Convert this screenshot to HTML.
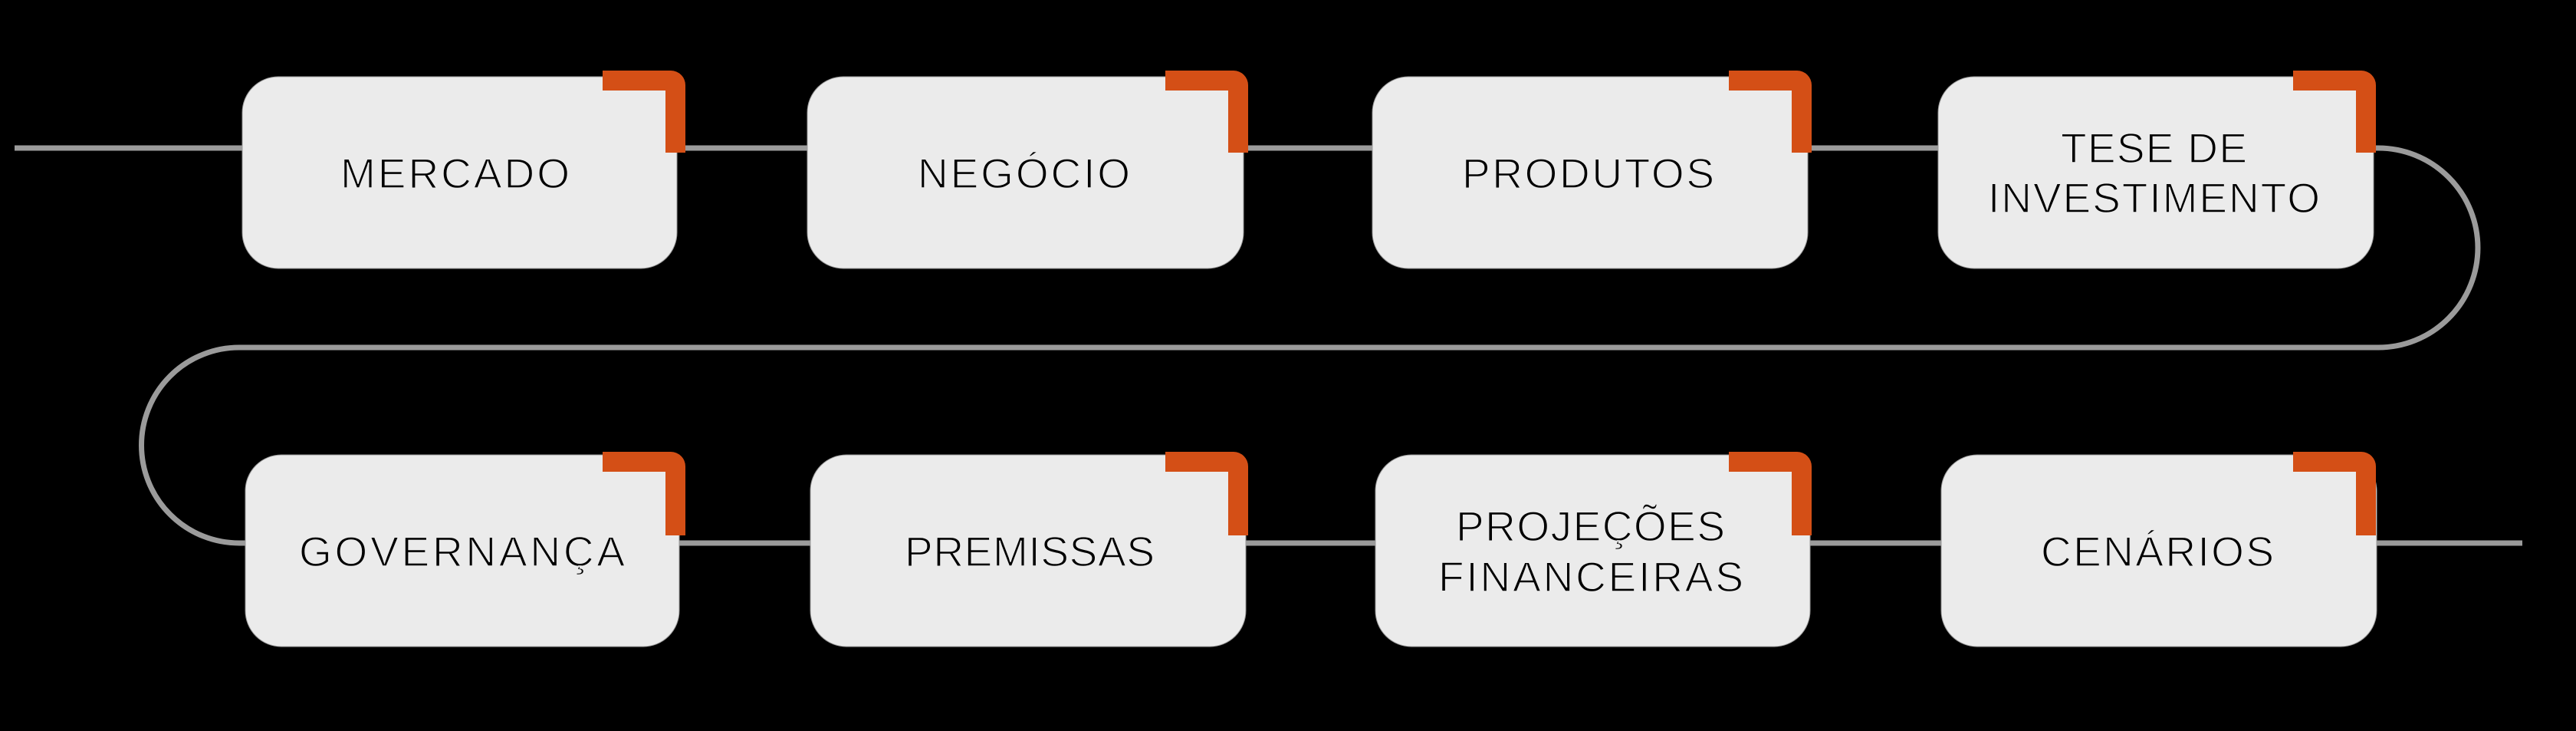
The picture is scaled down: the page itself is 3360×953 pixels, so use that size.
<!DOCTYPE html>
<html>
<head>
<meta charset="utf-8">
<style>
  html, body { margin: 0; padding: 0; background: #000; }
  body { width: 3360px; height: 953px; overflow: hidden; }
  svg { display: block; }
  text {
    font-family: "Liberation Sans", "DejaVu Sans", sans-serif;
    font-size: 55px;
    fill: #000;
    stroke: #ebebeb;
    stroke-width: 1.5px;
  }
</style>
</head>
<body>
<svg width="3360" height="953" viewBox="0 0 3360 953" xmlns="http://www.w3.org/2000/svg">
  <rect x="0" y="0" width="3360" height="953" fill="#000"/>

  <!-- connector line -->
  <path d="M19,193 H3102 A130,130 0 0 1 3102,453 H312 A127.5,127.5 0 0 0 312,708 H3290"
        fill="none" stroke="#9b9b9b" stroke-width="7"/>

  <!-- row 1 boxes -->
  <g fill="#ebebeb" stroke="#9a9a9a" stroke-width="1">
    <rect x="316" y="100" width="567" height="250" rx="47" ry="47"/>
    <rect x="1053" y="100" width="569" height="250" rx="47" ry="47"/>
    <rect x="1790" y="100" width="568" height="250" rx="47" ry="47"/>
    <rect x="2528" y="100" width="568" height="250" rx="47" ry="47"/>
  </g>
  <!-- row 2 boxes -->
  <g fill="#ebebeb" stroke="#9a9a9a" stroke-width="1">
    <rect x="320" y="593" width="566" height="250" rx="47" ry="47"/>
    <rect x="1057" y="593" width="568" height="250" rx="47" ry="47"/>
    <rect x="1794" y="593" width="567" height="250" rx="47" ry="47"/>
    <rect x="2532" y="593" width="568" height="250" rx="47" ry="47"/>
  </g>

  <!-- orange corner brackets -->
  <g fill="#d44f16">
    <path d="M786,92 H875 A19,19 0 0 1 894,111 V199 H868 V118 H786 Z"/>
    <path d="M1520,92 H1609 A19,19 0 0 1 1628,111 V199 H1602 V118 H1520 Z"/>
    <path d="M2255,92 H2344 A19,19 0 0 1 2363,111 V199 H2337 V118 H2255 Z"/>
    <path d="M2991,92 H3080 A19,19 0 0 1 3099,111 V199 H3073 V118 H2991 Z"/>

    <path d="M786,589 H875 A19,19 0 0 1 894,608 V698 H868 V615 H786 Z"/>
    <path d="M1520,589 H1609 A19,19 0 0 1 1628,608 V698 H1602 V615 H1520 Z"/>
    <path d="M2255,589 H2344 A19,19 0 0 1 2363,608 V698 H2337 V615 H2255 Z"/>
    <path d="M2991,589 H3080 A19,19 0 0 1 3099,608 V698 H3073 V615 H2991 Z"/>
  </g>

  <!-- labels -->
  <text x="444" y="245" textLength="299" lengthAdjust="spacing">MERCADO</text>
  <text x="1197" y="245" textLength="277" lengthAdjust="spacing">NEGÓCIO</text>
  <text x="1907" y="245" textLength="329" lengthAdjust="spacing">PRODUTOS</text>
  <text x="2688" y="212" textLength="243" lengthAdjust="spacing">TESE DE</text>
  <text x="2593" y="277" textLength="433" lengthAdjust="spacing">INVESTIMENTO</text>

  <text x="390" y="738" textLength="425" lengthAdjust="spacing">GOVERNANÇA</text>
  <text x="1180" y="738" textLength="326" lengthAdjust="spacing">PREMISSAS</text>
  <text x="1899" y="705" textLength="351" lengthAdjust="spacing">PROJEÇÕES</text>
  <text x="1876" y="771" textLength="398" lengthAdjust="spacing">FINANCEIRAS</text>
  <text x="2662" y="738" textLength="304" lengthAdjust="spacing">CENÁRIOS</text>
</svg>
</body>
</html>
